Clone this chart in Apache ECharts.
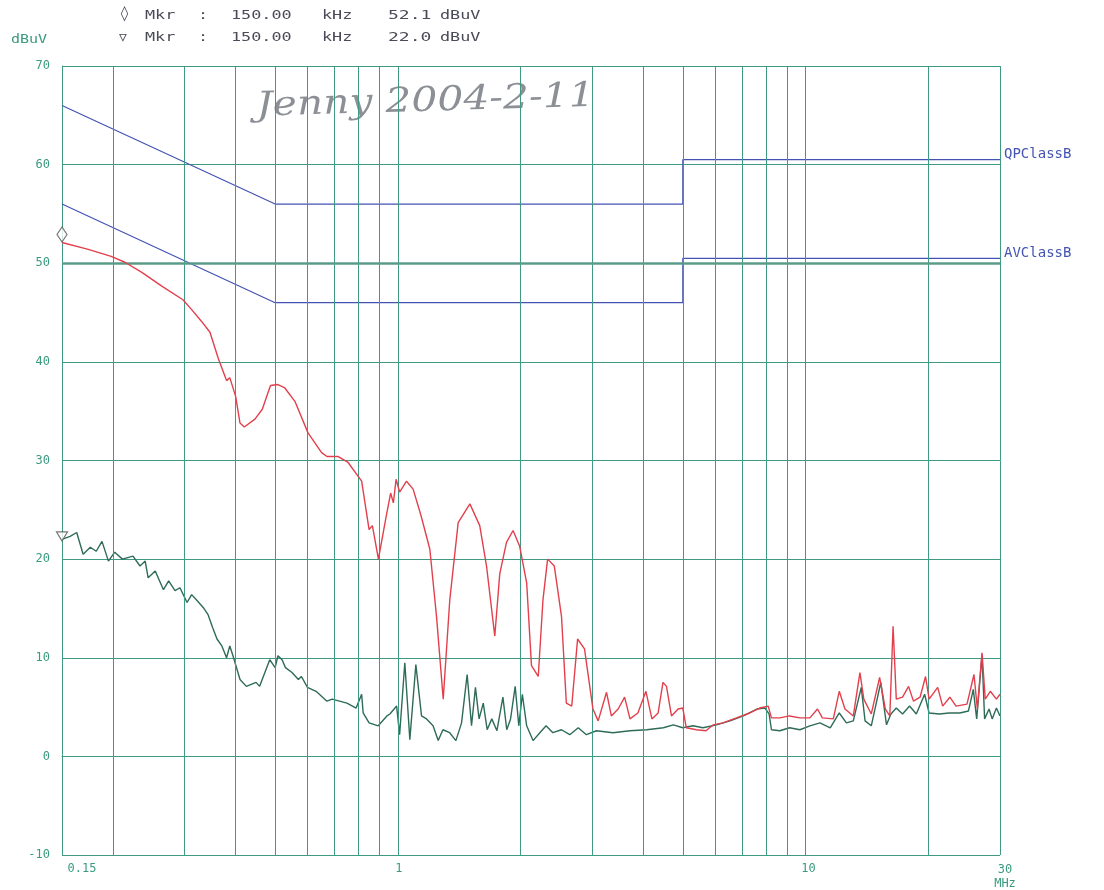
<!DOCTYPE html>
<html><head><meta charset="utf-8">
<script src="https://cdn.jsdelivr.net/npm/echarts@6/dist/echarts.min.js"></script>
<style>html,body{margin:0;padding:0;background:#fff}#c{width:1104px;height:890px}</style>
</head><body><div id="c"></div>
<script>
// ---- data (MHz / dBuV) ----
const xTickLabels = [0.15, 1, 10, 30];
const gridFreqs = [0.2,0.3,0.4,0.5,0.6,0.7,0.8,0.9,1,2,3,4,5,6,7,8,9,10,20,30];
const yMin = -10, yMax = 70, yStep = 10;

const limitFreq = [0.15, 0.5, 5, 5, 30];
const qpLimit = [66, 56, 56, 60.5, 60.5];
const avLimit = [56, 46, 46, 50.5, 50.5];

const markerFreq = [0.15];
const markerQP = [52.1];
const markerAV = [22.0];

const qpFreq = [0.150,0.174,0.198,0.214,0.235,0.263,0.297,0.312,0.330,0.346,0.363,0.380,0.387,0.400,0.410,0.420,0.446,0.465,0.487,0.508,0.527,0.559,0.602,0.650,0.670,0.714,0.755,0.815,0.850,0.866,0.896,0.933,0.960,0.975,0.990,1.01,1.05,1.09,1.14,1.198,1.244,1.292,1.341,1.406,1.502,1.588,1.650,1.729,1.778,1.847,1.917,1.990,2.07,2.127,2.21,2.27,2.33,2.42,2.52,2.59,2.67,2.76,2.87,3.01,3.10,3.25,3.34,3.47,3.60,3.71,3.88,4.06,4.20,4.35,4.47,4.56,4.69,4.87,5.00,5.10,5.40,5.70,5.94,6.27,6.77,7.30,7.72,8.10,8.25,8.65,9.14,9.69,10.25,10.7,11.0,11.7,12.1,12.5,13.1,13.6,13.9,14.5,15.2,15.7,16.1,16.4,16.7,17.3,17.9,18.4,19.1,19.7,20.1,21.1,21.7,22.6,23.4,24.9,25.9,26.4,27.1,27.6,28.4,29.4,30.0];
const qpLevel = [52.1,51.4,50.7,50.1,49.1,47.7,46.3,45.3,44.1,43.0,40.3,38.1,38.4,36.5,33.8,33.4,34.2,35.2,37.6,37.7,37.4,36.0,32.8,30.8,30.4,30.4,29.8,27.9,23.0,23.4,20.0,24.0,26.7,25.7,28.1,26.8,27.9,27.1,24.4,21.0,14.2,5.8,15.9,23.7,25.6,23.4,19.3,12.2,18.5,21.7,22.9,21.3,17.6,9.2,8.1,15.9,20.0,19.3,14.2,5.4,5.1,11.9,10.9,4.8,3.6,6.5,4.1,4.8,6.0,3.8,4.4,6.6,3.8,4.4,7.5,7.1,4.1,4.8,4.9,2.9,2.7,2.6,3.2,3.4,3.9,4.4,4.9,5.1,3.9,3.9,4.1,3.9,3.9,4.8,3.9,3.8,6.6,4.8,4.1,8.5,5.8,4.3,8.0,4.8,4.1,13.2,5.8,6.0,7.1,5.6,6.0,8.1,5.8,7.0,5.1,6.0,5.1,5.3,8.3,4.8,10.5,5.8,6.6,5.8,6.3];

const avFreq = [0.150,0.157,0.163,0.169,0.176,0.182,0.188,0.195,0.202,0.211,0.224,0.233,0.240,0.244,0.254,0.266,0.274,0.284,0.292,0.304,0.312,0.320,0.333,0.342,0.351,0.360,0.370,0.380,0.387,0.394,0.410,0.425,0.449,0.458,0.485,0.500,0.508,0.520,0.530,0.550,0.570,0.580,0.600,0.630,0.670,0.690,0.750,0.790,0.815,0.822,0.850,0.895,0.940,0.956,0.993,1.01,1.04,1.07,1.107,1.143,1.176,1.22,1.256,1.29,1.34,1.388,1.433,1.479,1.516,1.55,1.582,1.62,1.656,1.70,1.75,1.81,1.85,1.89,1.94,1.98,2.02,2.07,2.146,2.23,2.31,2.40,2.52,2.64,2.77,2.90,3.07,3.37,3.71,4.08,4.48,4.74,5.00,5.30,5.60,6.05,6.53,7.04,7.60,7.95,8.14,8.25,8.65,9.14,9.69,10.25,10.85,11.5,12.1,12.6,13.1,13.7,14.0,14.5,15.3,15.8,16.2,16.7,17.3,18.0,18.7,19.6,20.1,21.3,22.5,23.9,25.1,25.8,26.3,27.1,27.5,28.2,28.7,29.4,30.0];
const avLevel = [22.0,22.3,22.7,20.5,21.2,20.8,21.8,19.8,20.7,20.0,20.3,19.3,19.8,18.1,18.8,16.9,17.8,16.8,17.1,15.6,16.4,15.9,15.1,14.4,13.1,11.9,11.2,10.0,11.2,10.2,7.8,7.1,7.5,7.1,9.8,9.0,10.2,9.8,9.0,8.5,7.8,8.1,7.0,6.6,5.6,5.8,5.4,4.9,6.3,4.4,3.4,3.1,4.1,4.3,5.1,2.2,9.5,1.7,9.3,4.1,3.8,3.1,1.6,2.7,2.4,1.6,3.4,8.3,3.1,7.0,3.8,5.4,2.7,3.8,2.6,6.0,2.7,3.8,7.1,3.1,6.3,3.1,1.6,2.4,3.1,2.4,2.7,2.2,2.9,2.2,2.6,2.4,2.6,2.7,2.9,3.2,2.9,3.1,2.9,3.2,3.6,4.1,4.8,4.9,4.3,2.7,2.6,2.9,2.7,3.1,3.4,2.9,4.4,3.4,3.6,7.0,3.6,3.1,7.5,3.2,4.3,4.9,4.3,5.1,4.3,6.3,4.4,4.3,4.4,4.4,4.6,6.8,3.8,10.3,3.8,4.8,3.8,4.9,4.1];

// ---- styles ----
const gridColor = '#3f9a82';
const labelColor = '#3a9a7e';
const limitColor = '#4353b3';
const mono = '"DejaVu Sans Mono", monospace';
const pairs = (xs, ys) => xs.map((x, i) => [x, ys[i]]);

const chart = echarts.init(document.getElementById('c'), null, {renderer: 'canvas'});
const hdrColor = '#4a4a58';
function hdr(text, x, y, sx, color) {
  return {type: 'text', x: x, y: y, scaleX: sx || 1.4,
          style: {text: text, fill: color || hdrColor, font: '12px ' + mono, textVerticalAlign: 'top'}};
}
chart.setOption({
  animation: false,
  backgroundColor: '#ffffff',
  grid: {left: 62, right: 104, top: 66, bottom: 35, containLabel: false},
  xAxis: {
    type: 'log', logBase: 10, min: 0.15, max: 30,
    axisLine: {show: true, lineStyle: {color: gridColor, width: 1}},
    axisTick: {show: false},
    splitLine: {show: false},
    minorSplitLine: {show: false},
    axisLabel: {
      customValues: xTickLabels,
      color: labelColor, fontFamily: mono, fontSize: 12, margin: 8,
      formatter: function (v) {
        if (Math.abs(v - 0.15) < 1e-6) return '{a|0.15}';
        if (Math.abs(v - 30) < 1e-6) return '{b|30}\n{b|MHz}';
        if (Math.abs(v - 10) < 1e-6) return '{c|10}';
        return '{d|' + String(Math.round(v)) + '}';
      },
      rich: {
        a: {padding: [0, 0, 0, 40], color: labelColor, fontFamily: mono, fontSize: 12},
        b: {padding: [0, 0, 0, 10], color: labelColor, fontFamily: mono, fontSize: 12, lineHeight: 14},
        c: {padding: [0, 0, 0, 6], color: labelColor, fontFamily: mono, fontSize: 12},
        d: {padding: [0, 0, 0, 2], color: labelColor, fontFamily: mono, fontSize: 12}
      }
    }
  },
  yAxis: {
    type: 'value', min: yMin, max: yMax, interval: yStep,
    axisLine: {show: true, lineStyle: {color: gridColor, width: 1}},
    axisTick: {show: false},
    splitLine: {show: true, lineStyle: {color: gridColor, width: 1}},
    axisLabel: {color: labelColor, fontFamily: mono, fontSize: 12, margin: 12}
  },
  graphic: [
    hdr('dBuV', 11, 34, 1.25, labelColor),
    {type: 'text', x: 120, y: 7, style: {text: '\u25CA', fill: hdrColor, font: '15px ' + mono, textVerticalAlign: 'top'}},
    hdr('Mkr', 145, 10), hdr(':', 198, 10), hdr('150.00', 231, 10), hdr('kHz', 322, 10), hdr('52.1', 388, 10, 1.5), hdr('dBuV', 440, 10),
    {type: 'text', x: 119, y: 31, style: {text: '\u25BD', fill: hdrColor, font: '13px ' + mono, textVerticalAlign: 'top'}},
    hdr('Mkr', 145, 32), hdr(':', 198, 32), hdr('150.00', 231, 32), hdr('kHz', 322, 32), hdr('22.0', 388, 32, 1.5), hdr('dBuV', 440, 32),
    {type: 'text', x: 256, y: 90, rotation: 0.03, scaleX: 1.2,
     style: {text: 'Jenny 2004-2-11', fill: '#8c9096', font: 'italic 34px "DejaVu Serif", serif', textVerticalAlign: 'top'}}
  ],
  series: [
    {
      name: 'grid', type: 'line', data: [], silent: true, z: 1,
      markLine: {
        silent: true, symbol: ['none', 'none'], animation: false,
        label: {show: false},
        lineStyle: {color: gridColor, width: 1, type: 'solid'},
        data: gridFreqs.map(f => ({xAxis: f})).concat([{yAxis: 50, lineStyle: {color: '#5f9c8a', width: 3, opacity: 0.75}}])
      }
    },
    {
      name: 'QPClassB', type: 'line', data: pairs(limitFreq, qpLimit), showSymbol: false, z: 3,
      lineStyle: {color: limitColor, width: 1.2}, itemStyle: {color: limitColor},
      endLabel: {show: true, formatter: 'QPClassB', color: limitColor, fontFamily: mono, fontSize: 14, offset: [0, -5], distance: 4}
    },
    {
      name: 'AVClassB', type: 'line', data: pairs(limitFreq, avLimit), showSymbol: false, z: 3,
      lineStyle: {color: limitColor, width: 1.2}, itemStyle: {color: limitColor},
      endLabel: {show: true, formatter: 'AVClassB', color: limitColor, fontFamily: mono, fontSize: 14, offset: [0, -5], distance: 4}
    },
    {
      name: 'AV', type: 'line', data: pairs(avFreq, avLevel), showSymbol: false, z: 4,
      lineStyle: {color: '#2e6b58', width: 1.4}, itemStyle: {color: '#2e6b58'}
    },
    {
      name: 'QP', type: 'line', data: pairs(qpFreq, qpLevel), showSymbol: false, z: 5,
      lineStyle: {color: '#e2404c', width: 1.4}, itemStyle: {color: '#e2404c'}
    },
    {
      name: 'mkrQP', type: 'scatter', data: pairs(markerFreq, markerQP), clip: false, z: 6,
      symbol: 'diamond', symbolSize: [10, 15], symbolOffset: [0, -8],
      itemStyle: {color: '#ffffff', borderColor: '#555', borderWidth: 1.2}
    },
    {
      name: 'mkrAV', type: 'scatter', data: pairs(markerFreq, markerAV), clip: false, z: 6,
      symbol: 'triangle', symbolRotate: 180, symbolSize: [11, 9], symbolOffset: [0, -3],
      itemStyle: {color: '#ffffff', borderColor: '#555', borderWidth: 1.2}
    }
  ]
});
</script>
</body></html>
